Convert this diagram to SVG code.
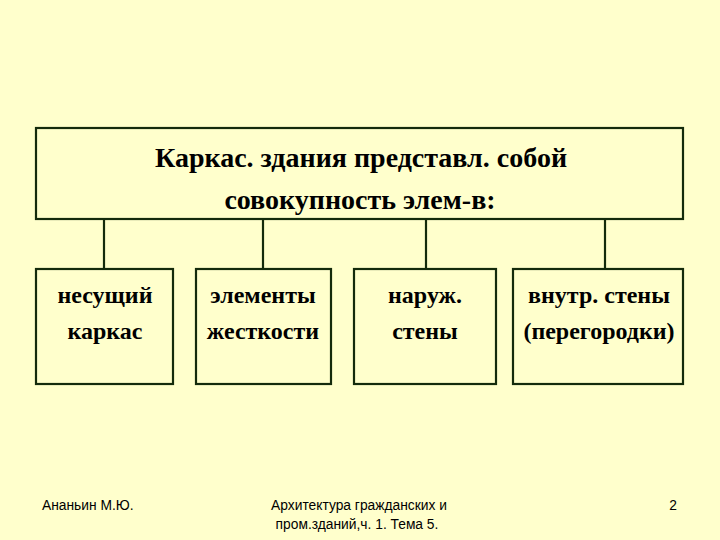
<svg xmlns="http://www.w3.org/2000/svg" width="720" height="540" viewBox="0 0 720 540">
<style>
.box{fill:#FFFFCC;stroke:#142b0c;stroke-width:2.2}
.ln{stroke:#142b0c;stroke-width:2.2;fill:none}
.t{font-family:"Liberation Serif","Times New Roman",serif;font-weight:bold;font-size:24px;fill:#000;text-anchor:middle}
.h{font-size:28px}
.f{font-family:"Liberation Sans",Arial,sans-serif;font-size:13.8px;fill:#000}
</style>
<rect width="720" height="540" fill="#FFFFCC"/>
<g id="connectors">
<line class="ln" x1="104" y1="219" x2="104" y2="269"/>
<line class="ln" x1="263" y1="219" x2="263" y2="269"/>
<line class="ln" x1="426" y1="219" x2="426" y2="269"/>
<line class="ln" x1="605" y1="219" x2="605" y2="269"/>
</g>
<g id="root">
<rect class="box" x="36" y="128" width="647" height="91"/>
<text class="t h" x="361" y="167">Каркас. здания представл. собой</text>
<text class="t h" x="360" y="209">совокупность элем-в:</text>
</g>
<g id="n1">
<rect class="box" x="36" y="269" width="137" height="115"/>
<text class="t" x="105" y="303">несущий</text>
<text class="t" x="105" y="339">каркас</text>
</g>
<g id="n2">
<rect class="box" x="196" y="269" width="135" height="115"/>
<text class="t" x="263" y="303">элементы</text>
<text class="t" x="263" y="339">жесткости</text>
</g>
<g id="n3">
<rect class="box" x="354" y="269" width="142" height="115"/>
<text class="t" x="425" y="303">наруж.</text>
<text class="t" x="425" y="339">стены</text>
</g>
<g id="n4">
<rect class="box" x="513" y="269" width="170" height="115"/>
<text class="t" x="599" y="303">внутр. стены</text>
<text class="t" x="599" y="339">(перегородки)</text>
</g>
<g id="footer">
<text class="f" x="42" y="510">Ананьин М.Ю.</text>
<text class="f" x="359" y="510" text-anchor="middle">Архитектура гражданских и</text>
<text class="f" x="357" y="529" text-anchor="middle">пром.зданий,ч. 1. Тема 5.</text>
<text class="f" x="677" y="510" text-anchor="end">2</text>
</g>
</svg>
